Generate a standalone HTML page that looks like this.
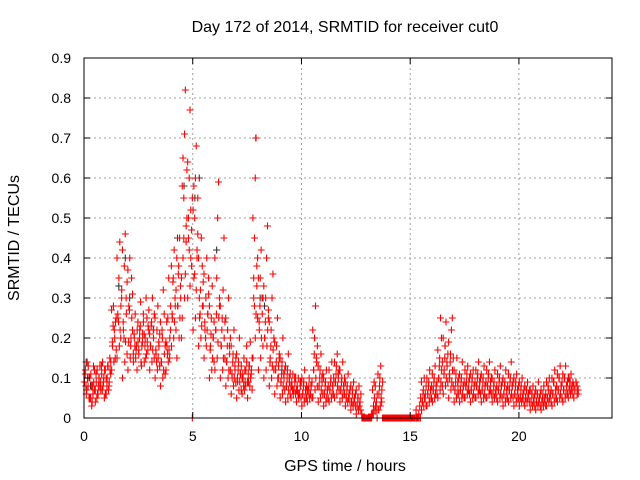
<!DOCTYPE html>
<html><head><meta charset="utf-8"><style>
body{margin:0;background:#fff;}
svg{display:block;font-family:"Liberation Sans",sans-serif;}
</style></head><body>
<svg id="chart" width="640" height="480" viewBox="0 0 640 480"></svg>
<script>
const xTicks=[0,5,10,15,20];
const yTicks=[0,0.1,0.2,0.3,0.4,0.5,0.6,0.7,0.8,0.9];
const yTickLabels=["0","0.1","0.2","0.3","0.4","0.5","0.6","0.7","0.8","0.9"];
const binWidth=0.25;
const redBins=[
[.09,.12,.06,.14,.08,.10],[.05,.11,.03,.08,.13,.07],[.04,.09,.12,.06,.10,.08],[.07,.11,.14,.09,.05,.12],
[.06,.10,.13,.08,.15,.11],[.12,.18,.28,.22,.15,.25],[.15,.25,.35,.44,.20,.30],[.10,.22,.38,.46,.30,.16],
[.12,.28,.40,.18,.35,.22],[.14,.20,.26,.17,.12,.24],[.16,.22,.29,.13,.19,.26],[.14,.20,.30,.25,.17,.22],
[.12,.18,.24,.30,.22,.15],[.10,.16,.22,.28,.19,.13],[.08,.14,.20,.32,.26,.11],[.12,.18,.25,.35,.15,.22],
[.18,.25,.35,.42,.30,.22],[.15,.28,.38,.45,.33,.20],[.25,.40,.55,.71,.82,.48,.62],[.30,.45,.60,.77,.52,.38,0],
[.22,.35,.50,.60,.68,.42,.55],[.18,.25,.32,.45,.38,.28],[.15,.22,.30,.40,.26,.35],[.10,.18,.25,.33,.20,.14],
[.12,.22,.35,.50,.59,.28],[.10,.18,.25,.32,.45,.15],[.08,.14,.22,.30,.18,.12],[.06,.10,.16,.22,.13,.09],
[.05,.09,.14,.20,.11,.07],[.06,.10,.15,.12,.08,.18],[.05,.09,.13,.19,.11,.07],[.15,.30,.45,.60,.70,.38,.25],
[.12,.22,.35,.42,.30,.18],[.10,.20,.30,.40,.48,.25],[.08,.15,.22,.30,.36,.12],[.06,.12,.18,.25,.10,.15],
[.05,.09,.14,.20,.11,.07],[.04,.08,.12,.16,.10,.06],[.05,.08,.11,.07,.10,.06],[.04,.07,.10,.06,.09,.05],
[.03,.06,.09,.12,.07,.05],[.04,.07,.10,.06,.08,.05],[.05,.12,.20,.28,.15,.08],[.04,.08,.12,.16,.10,.06],
[.03,.06,.09,.12,.07,.05],[.04,.07,.10,.14,.08,.06],[.05,.09,.13,.16,.11,.07],[.04,.07,.10,.14,.08,.06],
[.03,.05,.08,.11,.06,.04],[.02,.04,.07,.09,.05,.03],[.01,.03,.05,.08,.04,.02],[0,0,0,0],
[0,0,0,.01],[.01,.03,.05,.08,.02,0],[.02,.06,.10,.13,.04,0],[0,0,0,0],
[0,0,0,0],[0,0,0,0],[0,0,0,0],[0,0,0,0],[0,0,0,0],[0,0,0,0],
[.02,.04,.07,.10,.05,.03],[.03,.06,.09,.12,.07,.05],[.04,.07,.10,.13,.08,.06],[.05,.10,.15,.25,.20,.08],
[.06,.12,.18,.24,.14,.09],[.05,.10,.16,.22,.25,.08],[.04,.07,.11,.15,.09,.06],[.04,.07,.10,.14,.08,.05],
[.05,.08,.11,.13,.07,.06],[.04,.07,.10,.12,.08,.05],[.05,.08,.11,.14,.07,.06],[.04,.07,.10,.13,.08,.05],
[.05,.08,.11,.14,.07,.06],[.04,.06,.09,.12,.07,.05],[.04,.07,.10,.13,.08,.05],[.03,.06,.09,.12,.07,.05],
[.04,.07,.10,.14,.08,.05],[.03,.06,.09,.11,.07,.05],[.03,.05,.08,.10,.06,.04],[.03,.05,.07,.09,.06,.04],
[.02,.04,.06,.08,.05,.03],[.02,.04,.06,.09,.05,.03],[.02,.04,.06,.08,.05,.03],[.03,.05,.07,.10,.06,.04],
[.03,.06,.09,.12,.07,.05],[.04,.07,.10,.13,.08,.05],[.04,.07,.10,.13,.08,.06],[.05,.07,.09,.11,.08,.06],
[.05,.07,.09,.08,.06]
];
const redBins2=[
[.07,.10,.13,.05,.09,.11,.08],[.04,.06,.09,.12,.10,.05,.08],[.06,.08,.10,.13,.07,.11,.05],[.08,.10,.12,.06,.09,.13,.07],
[.07,.09,.12,.14,.10,.08,.13],[.14,.20,.24,.17,.27,.19,.23],[.18,.22,.28,.32,.40,.26,.24],[.14,.19,.26,.34,.42,.24,.20],
[.15,.20,.25,.31,.37,.19,.27],[.15,.18,.22,.19,.16,.21,.18],[.14,.18,.21,.24,.17,.20,.23],[.16,.19,.23,.27,.21,.18,.15],
[.14,.17,.20,.26,.21,.18,.23],[.12,.15,.18,.21,.25,.17,.14],[.10,.12,.16,.18,.24,.14,.22],[.14,.17,.20,.28,.19,.24,.16],
[.20,.24,.28,.32,.38,.26,.34],[.20,.25,.30,.35,.40,.28,.36],[.30,.36,.44,.50,.58,.65,.45],[.33,.40,.47,.55,.64,.50,.42],
[.25,.32,.40,.46,.52,.58,.36],[.20,.23,.28,.34,.40,.30,.26],[.18,.22,.26,.31,.36,.24,.20],[.12,.15,.20,.24,.28,.17,.21],
[.15,.19,.25,.30,.40,.22,.26],[.12,.15,.20,.24,.28,.18,.22],[.10,.12,.16,.20,.25,.14,.18],[.08,.10,.12,.15,.18,.11,.14],
[.07,.09,.11,.13,.16,.10,.12],[.07,.09,.12,.14,.10,.11,.08],[.08,.10,.12,.15,.09,.11,.13],[.20,.26,.33,.40,.50,.35,.28],
[.15,.20,.26,.30,.35,.24,.28],[.12,.18,.22,.27,.33,.20,.24],[.10,.13,.17,.20,.24,.14,.18],[.08,.10,.13,.16,.19,.12,.14],
[.06,.08,.10,.12,.15,.09,.11],[.05,.07,.09,.11,.13,.08,.10],[.06,.07,.09,.10,.08,.09,.07],[.05,.06,.08,.09,.07,.08,.06],
[.04,.05,.07,.08,.10,.06,.08],[.05,.06,.08,.09,.07,.06,.08],[.07,.10,.14,.18,.22,.12,.16],[.05,.07,.09,.11,.13,.08,.10],
[.04,.05,.07,.08,.10,.06,.08],[.05,.06,.08,.10,.12,.07,.09],[.06,.08,.10,.12,.14,.09,.11],[.05,.06,.08,.10,.12,.07,.09],
[.04,.05,.06,.07,.09,.05,.07],[.03,.04,.05,.06,.08,.04,.06],[.02,.03,.04,.06,.07,.03,.05],[0,0,0,.01,0,0],
[0,0,0,0,0,0],[.02,.03,.04,.06,.07,.01,.09],[.03,.05,.07,.09,.11,.02,.08],[0,0,0,0,0,0],
[0,0,0,0,0,0],[0,0,0,0,0,0],[0,0,0,0,0,0],[0,0,0,0,0,0],[0,0,0,0,0,0],[.01,.03,.05,.02,0,0],
[.03,.05,.06,.08,.09,.04,.06],[.04,.05,.07,.08,.10,.06,.08],[.05,.06,.08,.09,.11,.07,.09],[.07,.09,.12,.14,.17,.10,.13],
[.08,.10,.13,.16,.20,.11,.15],[.07,.09,.12,.15,.19,.11,.14],[.05,.06,.08,.10,.12,.07,.09],[.05,.06,.08,.09,.11,.07,.09],
[.06,.07,.09,.10,.12,.08,.09],[.05,.06,.08,.09,.11,.07,.09],[.06,.07,.09,.10,.12,.08,.10],[.05,.06,.08,.09,.11,.07,.09],
[.06,.07,.09,.10,.12,.08,.10],[.05,.06,.07,.08,.10,.06,.08],[.05,.06,.08,.09,.11,.07,.09],[.04,.05,.07,.08,.10,.06,.08],
[.05,.06,.08,.09,.11,.07,.09],[.04,.05,.07,.08,.10,.06,.08],[.04,.05,.06,.07,.09,.05,.07],[.04,.05,.06,.07,.08,.05,.07],
[.03,.04,.05,.06,.07,.04,.06],[.03,.04,.05,.06,.07,.04,.06],[.03,.04,.05,.06,.07,.04,.05],[.04,.05,.06,.07,.09,.05,.08],
[.04,.05,.07,.08,.10,.06,.09],[.05,.06,.08,.09,.11,.07,.10],[.05,.06,.08,.09,.11,.07,.10],[.06,.07,.08,.09,.10,.07,.08],
[.06,.07,.08,.07,.09]
];
const blackT=[0.1,0.3,1.6,1.9,2.1,3.2,4.3,4.6,5.1,5.3,6.1,7.9,8.1,8.3,9.1,10.6,16.6,18.2,22.3];
const blackV=[0.14,0.08,0.33,0.40,0.30,0.22,0.45,0.58,0.55,0.60,0.42,0.70,0.30,0.28,0.12,0.20,0.18,0.09,0.10];

const NS="http://www.w3.org/2000/svg";
const svg=document.getElementById('chart');
const L=84,R=612,T=58,B=418,XMAX=24.28,YMAX=0.9;
const xs=v=>L+(v/XMAX)*(R-L);
const ys=v=>B-(v/YMAX)*(B-T);
function mk(tag,attrs,parent){const e=document.createElementNS(NS,tag);for(const k in attrs)e.setAttribute(k,attrs[k]);(parent||svg).appendChild(e);return e;}

const grid=mk('g',{});


xTicks.forEach(t=>{if(t>0)mk('line',{x1:xs(t),x2:xs(t),y1:T,y2:B,stroke:'#a0a0a0','stroke-dasharray':'2,3','stroke-width':1},grid);});
yTicks.forEach(t=>{if(t>0&&t<YMAX-1e-9)mk('line',{x1:L,x2:R,y1:ys(t),y2:ys(t),stroke:'#a0a0a0','stroke-dasharray':'2,3','stroke-width':1},grid);});

function plus(g,x,y,c){mk('path',{d:`M${x-3.5},${y}h7M${x},${y-3.5}v7`,stroke:c,'stroke-width':1.1,fill:'none'},g);}
const blackG=mk('g',{});


blackT.forEach((t,i)=>plus(blackG,xs(t),ys(blackV[i]),'#333'));
const redG=mk('g',{});


function drawBins(bins,off){bins.forEach((vals,i)=>{const t0=i*binWidth;vals.forEach((v,j)=>{plus(redG,xs(t0+((j+off)%vals.length+0.5)*binWidth/vals.length),ys(v),'#ff0000');});});}
drawBins(redBins,0);
drawBins(redBins2,3);

const axes=mk('g',{});


mk('rect',{x:L,y:T,width:R-L,height:B-T,fill:'none',stroke:'#000','stroke-width':1},axes);
xTicks.forEach(t=>{const x=xs(t);mk('line',{x1:x,x2:x,y1:B,y2:B-6,stroke:'#000'},axes);mk('line',{x1:x,x2:x,y1:T,y2:T+6,stroke:'#000'},axes);
 const tx=mk('text',{x:x,y:B+23,'text-anchor':'middle','font-size':14},axes);tx.textContent=String(t);});
yTicks.forEach((t,i)=>{const y=ys(t);mk('line',{x1:L,x2:L+6,y1:y,y2:y,stroke:'#000'},axes);mk('line',{x1:R,x2:R-6,y1:y,y2:y,stroke:'#000'},axes);
 const tx=mk('text',{x:L-13,y:y+5,'text-anchor':'end','font-size':14},axes);tx.textContent=yTickLabels[i];});

const title=mk('text',{x:345,y:32,'text-anchor':'middle','font-size':16});


title.textContent='Day 172 of 2014, SRMTID for receiver cut0';
const xl=mk('text',{x:345,y:471,'text-anchor':'middle','font-size':16});


xl.textContent='GPS time / hours';
const yl=mk('text',{x:0,y:0,'text-anchor':'middle','font-size':16,transform:'translate(19,238) rotate(-90)'});


yl.textContent='SRMTID / TECUs';
</script>
</body></html>
